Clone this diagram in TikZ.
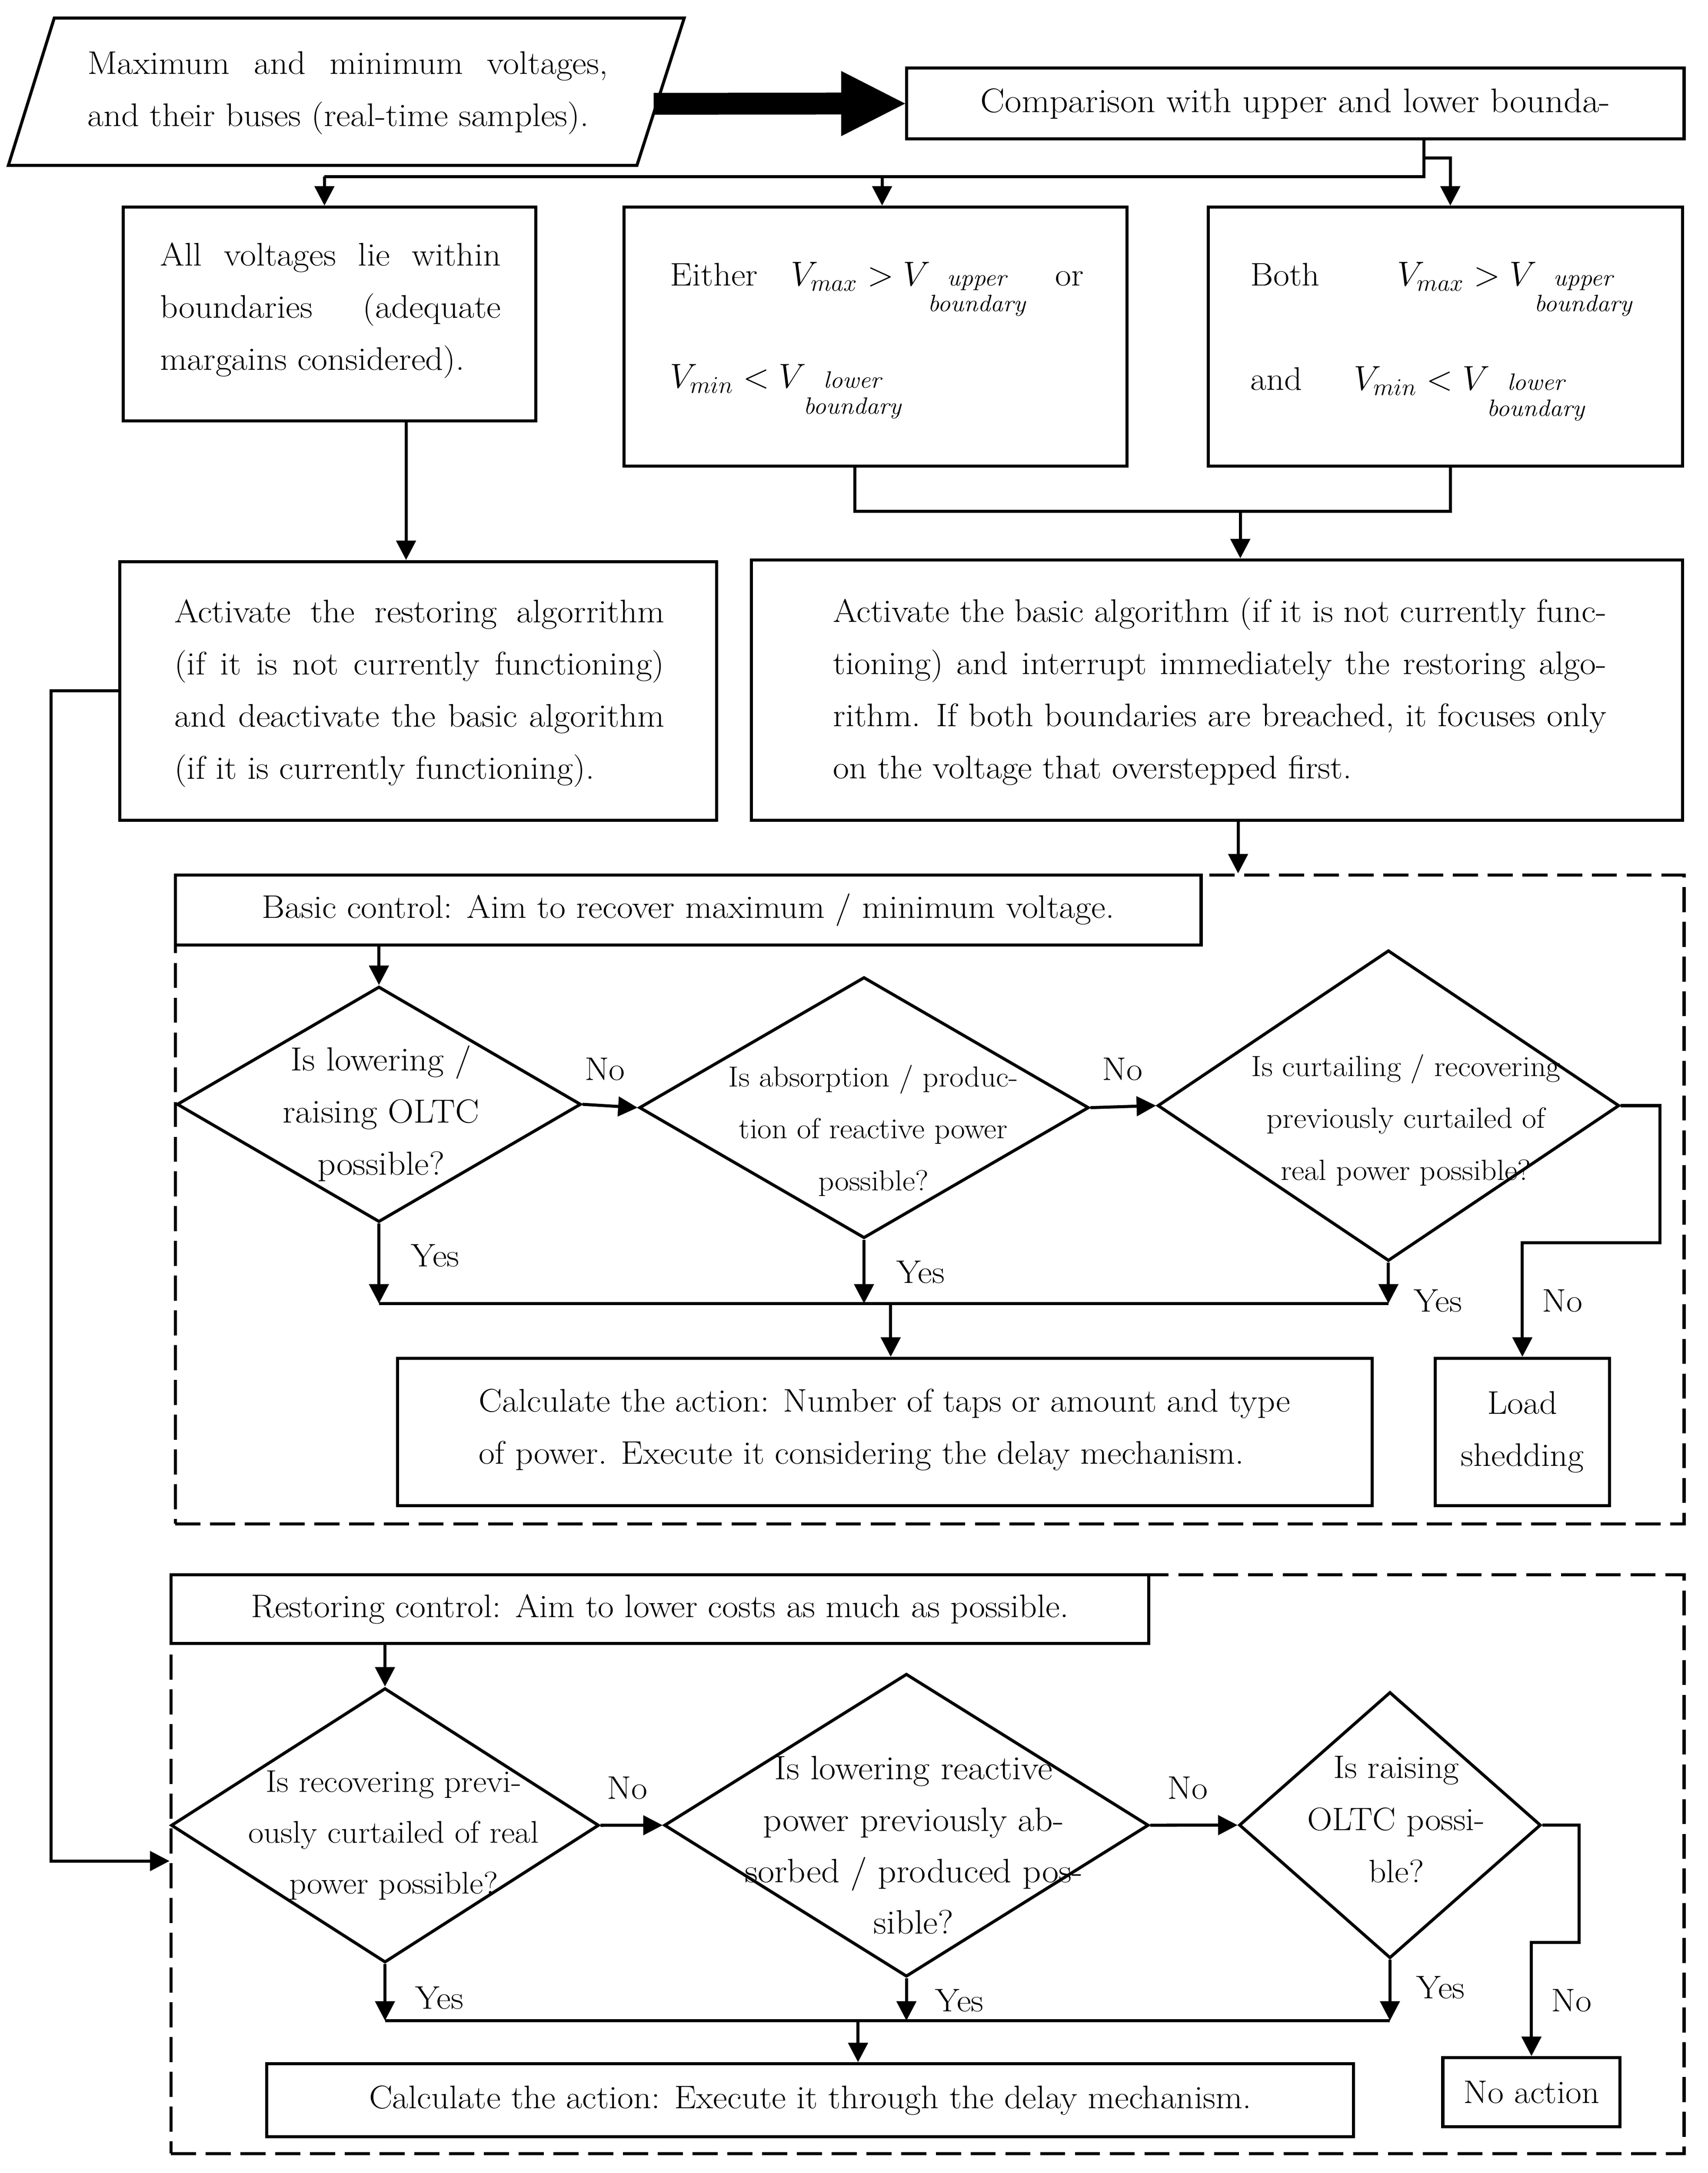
\documentclass[tikz,border=0pt]{standalone}
\usepackage{fontspec}
\setmainfont{Latin Modern Roman}[FakeStretch=1.07]
\usetikzlibrary{shapes.geometric,arrows.meta,calc}
\newcommand{\bodyfs}{\fontsize{23.5}{37.5}\selectfont}
\newcommand{\stk}[2]{{\fontsize{17}{18.6}\selectfont\itshape\vtop{\baselineskip=18.6pt\lineskiplimit=-50pt\lineskip=0pt\halign{\hfil##\hfil\cr #1\cr #2\cr}}}}
\begin{document}
\begin{tikzpicture}[x=1pt,y=-1pt,
  ln/.style={line width=2.2pt},
  arr/.style={line width=2.2pt,-{Triangle[length=14pt,width=14pt]}},
  bx/.style={draw,line width=2.2pt,fill=white,inner sep=0pt,font=\bodyfs},
  dia/.style={draw,diamond,line width=2.2pt,inner sep=0pt},
  cont/.style={draw,line width=2.2pt,dash pattern=on 18pt off 7pt,inner sep=0pt},
  txt/.style={inner sep=0pt,anchor=base west,font=\bodyfs},
  ctxt/.style={inner sep=0pt,anchor=base,font=\bodyfs},
  lbl/.style={inner sep=0pt,font=\bodyfs}]
\fill[white] (0,0) rectangle (1228,1563);
\useasboundingbox (0,0) rectangle (1228,1563);

% ---------- input parallelogram ----------
\draw[ln] (6,119) -- (39,13) -- (492,13) -- (458,119) -- cycle;
\node[txt] (ptxt) at (62.7,53.3) {\parbox[t]{374.3pt}{\bodyfs\makebox[374.3pt][s]{Maximum and minimum voltages,}\\and their buses (real-time samples).}};
\coordinate (pr) at (470,74.65);

% ---------- comparison box ----------
\node[bx,minimum width=559pt,minimum height=51pt] (cmp) at (931.5,74.5) {\fontsize{24.5}{37.5}\selectfont Comparison with upper and lower bounda-};
\fill ($(pr)+(0,-7.85)$) -- ($(cmp.west)+(-46,-7.85)$) -- ($(cmp.west)+(-46,-23.45)$) -- (cmp.west) -- ($(cmp.west)+(-46,23.45)$) -- ($(cmp.west)+(-46,7.85)$) -- ($(pr)+(0,7.85)$) -- cycle;

% ---------- second row ----------
\node[bx,minimum width=296.8pt,minimum height=153.7pt] (A) at (236.9,225.85) {};
\node[txt] (At) at (115,191.2) {\parbox[t]{245pt}{\bodyfs\makebox[245pt][s]{All voltages lie within}\\\makebox[245pt][s]{boundaries (adequate}\\margains considered).}};

\node[bx,minimum width=361.8pt,minimum height=186.3pt] (B) at (629.6,242.15) {};
\node[txt] (Bt1) at (481.8,205.4) {\makebox[276.8pt][l]{\makebox[86.8pt][l]{Either}$V_{max} > V$\hspace{-2pt}\stk{upper}{boundary}}or};
\node[txt] (Bt2) at (481.8,279) {$V_{min} < V$\hspace{-2pt}\stk{lower}{boundary}};

\node[bx,minimum width=340.8pt,minimum height=186.3pt] (C) at (1039.4,242.15) {};
\node[txt] (Ct1) at (899,205.4) {\makebox[105.6pt][l]{Both}$V_{max} > V$\hspace{-2pt}\stk{upper}{boundary}};
\node[txt] (Ct2) at (899,280.7) {\makebox[74.3pt][l]{and}$V_{min} < V$\hspace{-2pt}\stk{lower}{boundary}};

% tree from comparison box
\coordinate (t1) at (1024,127);
\coordinate (t2) at (1024,113.7);
\coordinate (t3) at (1042.9,113.7);
\coordinate (xa) at (233.3,0);
\coordinate (xb) at (634.3,0);
\draw[ln] (cmp.south -| t1) -- (t1) -- (t1 -| xa);
\draw[arr] (t1 -| xa) -- (A.north -| xa);
\draw[arr] (t1 -| xb) -- (B.north -| xb);
\draw[arr] (t2) -- (t3) -- (C.north -| t3);

% ---------- third row ----------
\node[bx,minimum width=429.1pt,minimum height=186pt] (D) at (300.75,496.9) {};
\node[txt] (Dt) at (125.3,447.9) {\parbox[t]{352.3pt}{\bodyfs\makebox[352.3pt][s]{Activate the restoring algorrithm}\\\makebox[352.3pt][s]{(if it is not currently functioning)}\\\makebox[352.3pt][s]{and deactivate the basic algorithm}\\(if it is currently functioning).}};

\node[bx,minimum width=669.5pt,minimum height=187.2pt] (E) at (875.05,496.3) {};
\node[txt] (Et) at (599,447.5) {\parbox[t]{556pt}{\bodyfs\makebox[556pt][s]{Activate the basic algorithm (if it is not currently func-}\\\makebox[556pt][s]{tioning) and interrupt immediately the restoring algo-}\\\makebox[556pt][s]{rithm. If both boundaries are breached, it focuses only}\\on the voltage that overstepped first.}};

\coordinate (ad) at (292,0);
\draw[arr] (A.south -| ad) -- (D.north -| ad);
\coordinate (bxc) at (614.7,367.8);
\coordinate (cxc) at (1043,367.8);
\coordinate (mxc) at (891.9,367.8);
\draw[ln] (B.south -| bxc) -- (bxc) -- (cxc) -- (C.south -| cxc);
\draw[arr] (mxc) -- (E.north -| mxc);

% ---------- containers ----------
\node[cont,minimum width=1085pt,minimum height=466.7pt] (bcont) at (668.5,862.65) {};
\node[cont,minimum width=1088pt,minimum height=416.4pt] (rcont) at (667,1340.8) {};

\coordinate (ea) at (890.3,0);
\draw[arr] (E.south -| ea) -- (bcont.north -| ea);

% left loop into restoring control
\coordinate (lp) at (36.8,1338.6);
\draw[arr] (D.west) -| (lp) -- (rcont.west |- lp);

% ---------- basic control ----------
\node[bx,minimum width=737.7pt,minimum height=50.3pt] (bctrl) at (494.85,654.45) {Basic control: Aim to recover maximum / minimum voltage.};

\node[dia,minimum width=290.6pt,minimum height=169.4pt] (d1) at (272.5,794.3) {};
\node[dia,minimum width=323.4pt,minimum height=187.8pt] (d2) at (621.3,796.7) {};
\node[dia,minimum width=332pt,minimum height=223.5pt] (d3) at (998.4,795.25) {};
\node[ctxt] (d1t) at (274,770) {\parbox[t]{220pt}{\centering\fontsize{24}{37.5}\selectfont Is lowering /\\raising OLTC\\possible?}};
\node[ctxt] (d2t) at (628,781.5) {\parbox[t]{240pt}{\centering\fontsize{20.8}{37.5}\selectfont Is absorption / produc-\\tion of reactive power\\possible?}};
\node[ctxt] (d3t) at (1011,774) {\parbox[t]{260pt}{\centering\fontsize{21}{37.5}\selectfont Is curtailing / recovering\\previously curtailed of\\real power possible?}};

\draw[arr] (bctrl.south -| d1.north) -- (d1.north);
\draw[arr] (d1.east) -- (d2.west);
\draw[arr] (d2.east) -- (d3.west);
\node[lbl] (no1) at (435,769) {No};
\node[lbl] (no2) at (807,769) {No};

\node[bx,minimum width=700.8pt,minimum height=106pt] (calc1) at (636.2,1030) {};
\node[ctxt] (calc1t) at (636.2,1015.4) {\parbox[t]{583.5pt}{\bodyfs\makebox[583.5pt][s]{Calculate the action: Number of taps or amount and type}\\of power. Execute it considering the delay mechanism.}};
\node[bx,minimum width=125.4pt,minimum height=106pt,align=center] (load) at (1094.7,1030) {Load\\shedding};

\coordinate (yl) at (0,937.6);
\draw[arr] (d1.south) -- (d1.south |- yl);
\draw[arr] (d2.south) -- (d2.south |- yl);
\draw[arr] (d3.south) -- (d3.south |- yl);
\draw[ln] (d1.south |- yl) -- (d3.south |- yl);
\coordinate (ca) at (640.5,937.6);
\draw[arr] (ca) -- (calc1.north -| ca);
\coordinate (r3) at (1193.5,894);
\draw[arr] (d3.east) -| (r3) -| (load.north);
\node[lbl] (yes1) at (313,903) {Yes};
\node[lbl] (yes2) at (662,915) {Yes};
\node[lbl] (yes3) at (1034,935.5) {Yes};
\node[lbl] (no3) at (1123.5,935.5) {No};

% ---------- restoring control ----------
\node[bx,minimum width=703pt,minimum height=49.4pt] (rctrl) at (474.5,1157.3) {Restoring control: Aim to lower costs as much as possible.};

\node[dia,minimum width=307.7pt,minimum height=197.4pt] (d4) at (276.85,1312.9) {};
\node[dia,minimum width=348.4pt,minimum height=217.9pt] (d5) at (651.8,1312.85) {};
\node[dia,minimum width=217pt,minimum height=191.5pt] (d6) at (999.5,1312.75) {};
\node[ctxt] (d4t) at (283,1289) {\parbox[t]{240pt}{\centering\fontsize{22.5}{36.5}\selectfont Is recovering previ-\\ously curtailed of real\\power possible?}};
\node[ctxt] (d5t) at (657,1280) {\parbox[t]{280pt}{\centering\fontsize{24.3}{37}\selectfont Is lowering reactive\\power previously ab-\\sorbed / produced pos-\\sible?}};
\node[ctxt] (d6t) at (1004,1279) {\parbox[t]{180pt}{\centering\fontsize{23.3}{37.5}\selectfont Is raising\\OLTC possi-\\ble?}};

\draw[arr] (rctrl.south -| d4.north) -- (d4.north);
\draw[arr] (d4.east) -- (d5.west);
\draw[arr] (d5.east) -- (d6.west);
\node[lbl] (no4) at (451,1286) {No};
\node[lbl] (no5) at (854,1286) {No};

\node[bx,minimum width=781.4pt,minimum height=52.6pt] (calc2) at (582.6,1510.7) {Calculate the action: Execute it through the delay mechanism.};
\node[bx,minimum width=127.5pt,minimum height=49.6pt] (noact) at (1101.25,1504.8) {No action};

\coordinate (yl2) at (0,1453.4);
\draw[arr] (d4.south) -- (d4.south |- yl2);
\draw[arr] (d5.south) -- (d5.south |- yl2);
\draw[arr] (d6.south) -- (d6.south |- yl2);
\draw[ln] (d4.south |- yl2) -- (d6.south |- yl2);
\coordinate (ca2) at (617,1453.4);
\draw[arr] (ca2) -- (calc2.north -| ca2);
\coordinate (r6) at (1135.4,1397);
\draw[arr] (d6.east) -| (r6) -| (noact.north);
\node[lbl] (yes4) at (316,1437) {Yes};
\node[lbl] (yes5) at (690,1439) {Yes};
\node[lbl] (yes6) at (1036,1429.5) {Yes};
\node[lbl] (no6) at (1130,1439) {No};
\end{tikzpicture}
\end{document}
